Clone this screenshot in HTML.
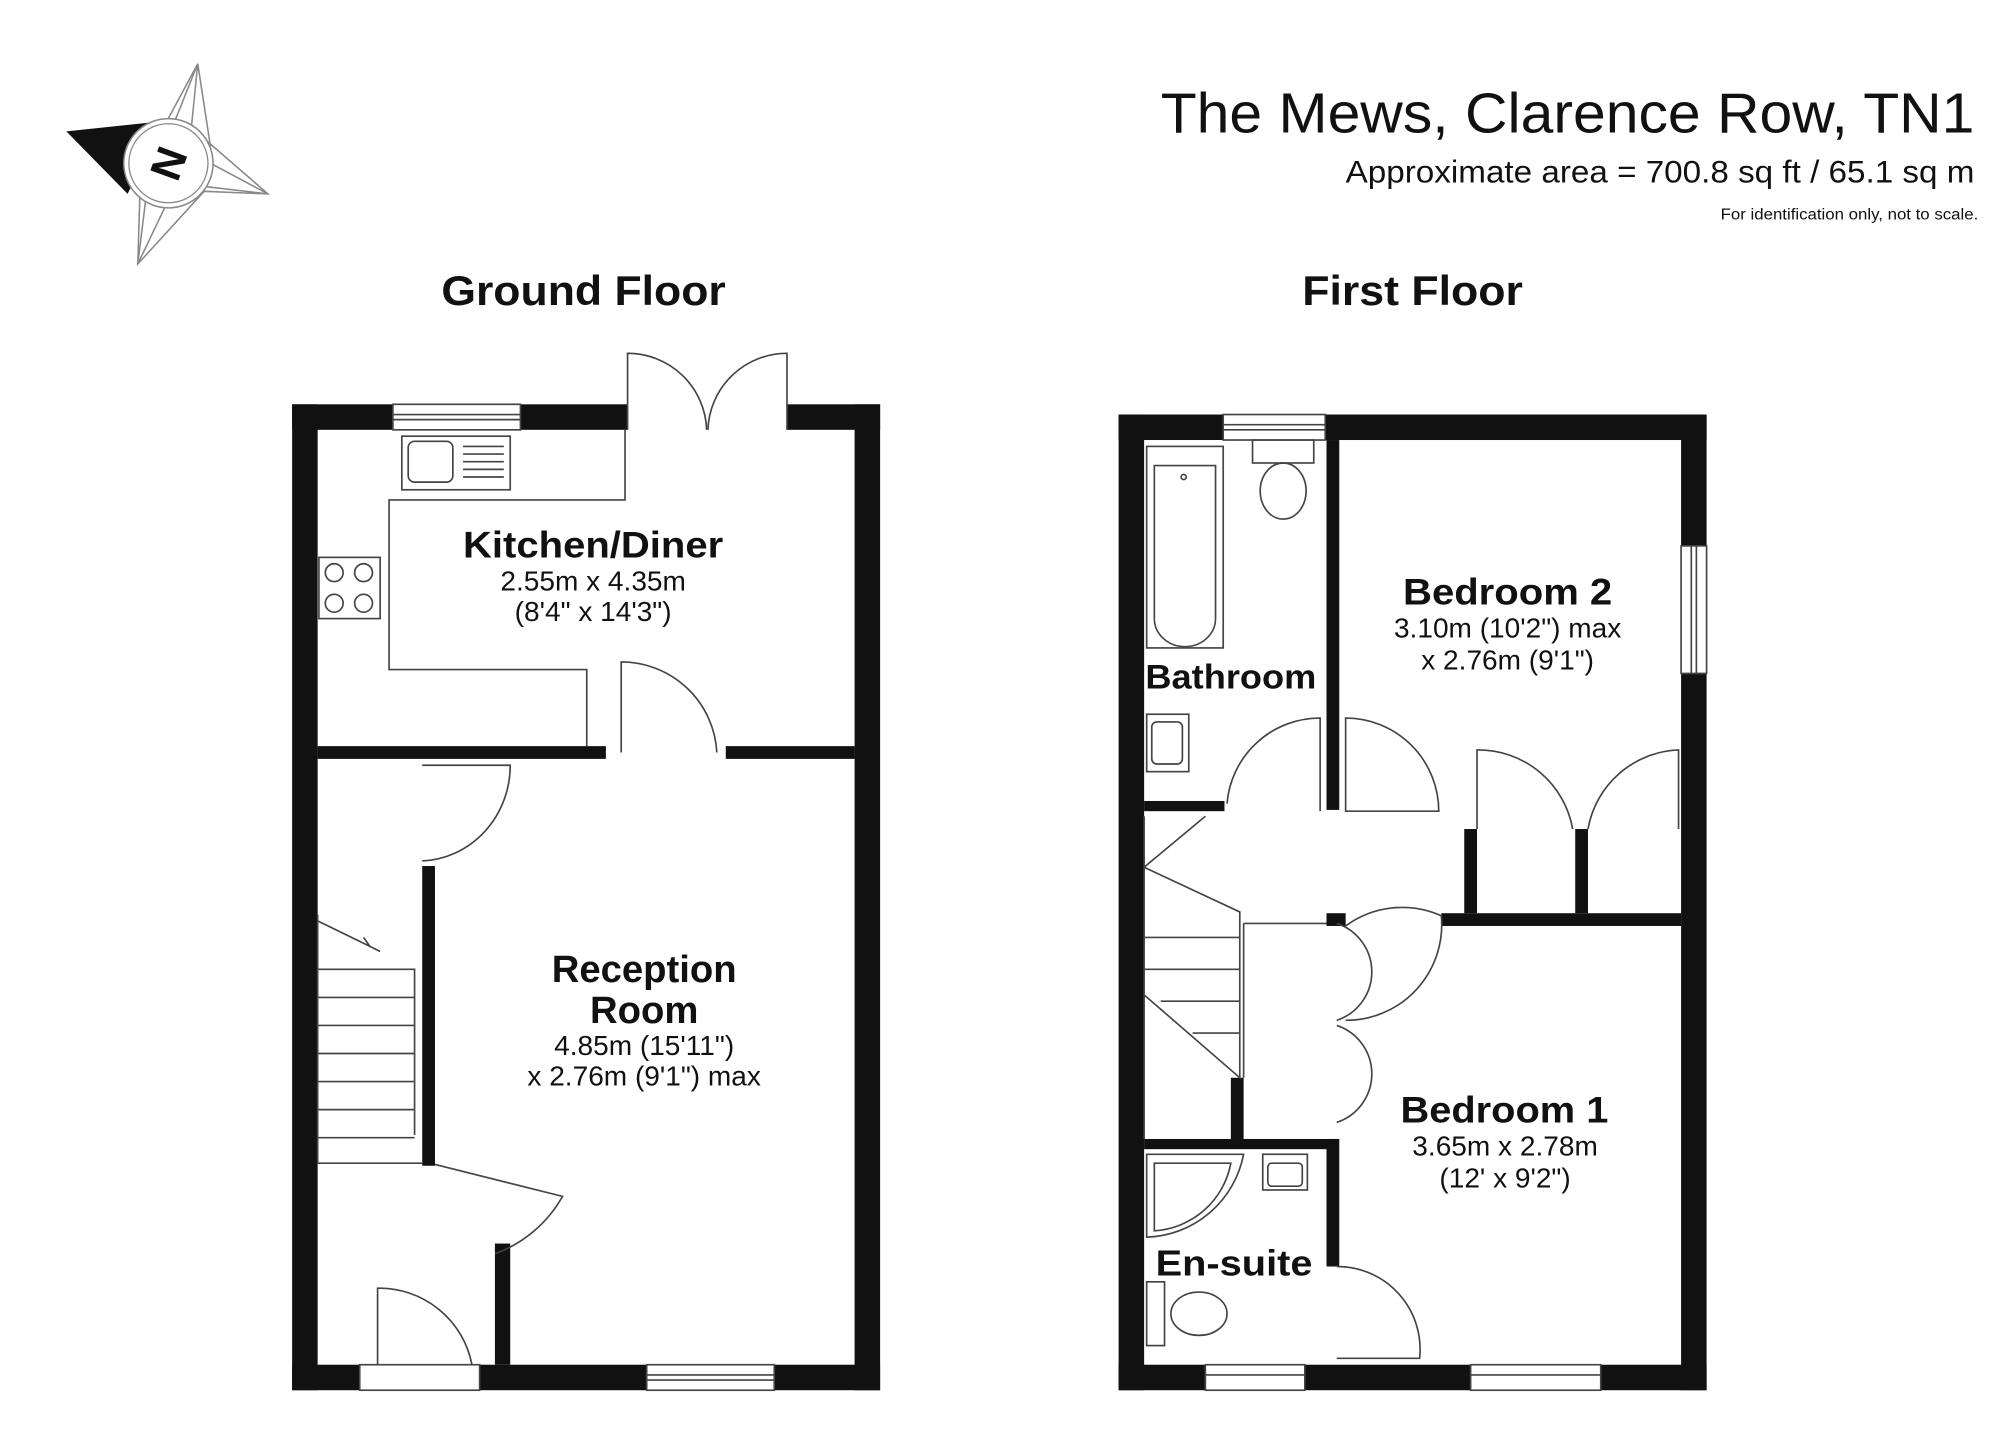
<!DOCTYPE html>
<html><head><meta charset="utf-8"><style>
html,body{margin:0;padding:0;background:#fff}
svg{display:block}
text{font-family:"Liberation Sans",sans-serif;fill:#111}
</style></head><body>
<svg width="2000" height="1454" viewBox="0 0 1568 1140" xmlns="http://www.w3.org/2000/svg">
<rect width="1568" height="1140" fill="#fff"/>
<!-- compass -->
<g stroke="#888" stroke-width="1.2" fill="none">
<polygon points="155,50 150,100 210,152 160,150 108,207 115,150"/>
<line x1="155" y1="50" x2="120" y2="115"/><line x1="155" y1="50" x2="165" y2="115"/>
<line x1="210" y1="152" x2="150" y2="120"/><line x1="210" y1="152" x2="150" y2="145"/>
<line x1="108" y1="207" x2="140" y2="140"/><line x1="108" y1="207" x2="110" y2="140"/>
</g>
<polygon points="52,103 128,95 100,152" fill="#111"/>
<circle cx="132" cy="128" r="35" fill="#fff" stroke="#888" stroke-width="1.2"/>
<circle cx="132" cy="128" r="31" fill="none" stroke="#888" stroke-width="1"/>
<text x="132" y="140" font-size="34" font-weight="bold" text-anchor="middle" transform="rotate(-70 132 128)">N</text>
<!-- header -->
<text x="910" y="104" font-size="44" textLength="638" lengthAdjust="spacingAndGlyphs">The Mews, Clarence Row, TN1</text>
<text x="1055" y="143" font-size="25" textLength="493" lengthAdjust="spacingAndGlyphs">Approximate area = 700.8 sq ft / 65.1 sq m</text>
<text x="1349" y="172" font-size="12" textLength="202" lengthAdjust="spacingAndGlyphs">For identification only, not to scale.</text>
<text x="346" y="239" font-size="33" font-weight="bold" textLength="223" lengthAdjust="spacingAndGlyphs">Ground Floor</text>
<text x="1021" y="239" font-size="33" font-weight="bold" textLength="173" lengthAdjust="spacingAndGlyphs">First Floor</text>

<!-- GROUND FLOOR -->
<g fill="#111">
<rect x="229" y="317" width="20" height="773"/>
<rect x="670" y="317" width="20" height="773"/>
<rect x="229" y="317" width="79" height="20"/>
<rect x="408" y="317" width="84" height="20"/>
<rect x="617" y="317" width="73" height="20"/>
<rect x="229" y="1070" width="53" height="20"/>
<rect x="376" y="1070" width="131" height="20"/>
<rect x="607" y="1070" width="83" height="20"/>
<rect x="249" y="585" width="226" height="10"/>
<rect x="569" y="585" width="101" height="10"/>
<rect x="331" y="679" width="10" height="235"/>
<rect x="388" y="975" width="12" height="95"/>
</g>
<g fill="none" stroke="#444" stroke-width="1.3">
<rect x="308" y="317" width="100" height="20"/><line x1="308" y1="325" x2="408" y2="325"/><line x1="308" y1="329" x2="408" y2="329"/>
<rect x="507" y="1070" width="100" height="20"/><line x1="507" y1="1078" x2="607" y2="1078"/><line x1="507" y1="1082" x2="607" y2="1082"/>
<rect x="282" y="1070" width="94" height="20"/>
<path d="M492,337 V277 A62,62 0 0 1 554,337"/>
<path d="M617,337 V277 A62,62 0 0 0 555,337"/>
<path d="M490,337 V392 H305 V525 H460 V585"/>
<rect x="315" y="342" width="85" height="42"/><rect x="320" y="346" width="35" height="32" rx="5"/>
<line x1="363" y1="350" x2="395" y2="350"/><line x1="363" y1="356" x2="395" y2="356"/><line x1="363" y1="362" x2="395" y2="362"/><line x1="363" y1="368" x2="395" y2="368"/><line x1="363" y1="374" x2="395" y2="374"/>
<rect x="250" y="437" width="48" height="48"/>
<circle cx="262" cy="449" r="7"/><circle cx="285" cy="449" r="7"/><circle cx="262" cy="473" r="7"/><circle cx="285" cy="473" r="7"/>
<path d="M487,590 V519 A75,75 0 0 1 562,590"/>
<path d="M331,600 H400 A72,75 0 0 1 331,675"/>
<path d="M341,913 L441,938 A100,100 0 0 1 388,983"/>
<path d="M296,1070 V1010 A74,74 0 0 1 370,1070"/>
<path d="M249,912 H331 M249,717 V912 M249,760 H325 V890"/>
<line x1="249" y1="782" x2="325" y2="782"/><line x1="249" y1="804" x2="325" y2="804"/><line x1="249" y1="826" x2="325" y2="826"/><line x1="249" y1="848" x2="325" y2="848"/><line x1="249" y1="870" x2="325" y2="870"/><line x1="249" y1="892" x2="325" y2="892"/>
<path d="M249,722 L290,742 L285,735 M290,742 L298,746"/>
</g>
<text x="363" y="437" font-size="29" font-weight="bold" textLength="204" lengthAdjust="spacingAndGlyphs">Kitchen/Diner</text>
<text x="465" y="463" font-size="22" text-anchor="middle">2.55m x 4.35m</text>
<text x="465" y="487" font-size="22" text-anchor="middle">(8'4" x 14'3")</text>
<text x="505" y="770" font-size="30" font-weight="bold" text-anchor="middle">Reception</text>
<text x="505" y="802" font-size="30" font-weight="bold" text-anchor="middle">Room</text>
<text x="505" y="827" font-size="22" text-anchor="middle">4.85m (15'11")</text>
<text x="505" y="851" font-size="22" text-anchor="middle">x 2.76m (9'1") max</text>

<!-- FIRST FLOOR -->
<g fill="#111">
<rect x="877" y="325" width="20" height="765"/>
<rect x="1318" y="325" width="20" height="103"/>
<rect x="1318" y="528" width="20" height="562"/>
<rect x="877" y="325" width="82" height="20"/>
<rect x="1039" y="325" width="299" height="20"/>
<rect x="877" y="1070" width="68" height="20"/>
<rect x="1023" y="1070" width="130" height="20"/>
<rect x="1255" y="1070" width="83" height="20"/>
<rect x="1040" y="345" width="10" height="290"/>
<rect x="897" y="628" width="63" height="8"/>
<rect x="1040" y="716" width="15" height="10"/>
<rect x="1130" y="716" width="188" height="10"/>
<rect x="1148" y="650" width="10" height="66"/>
<rect x="1235" y="650" width="10" height="66"/>
<rect x="965" y="845" width="10" height="53"/>
<rect x="897" y="893" width="150" height="8"/>
<rect x="1040" y="893" width="10" height="100"/>
</g>
<g fill="none" stroke="#444" stroke-width="1.3">
<rect x="959" y="325" width="80" height="20"/><line x1="959" y1="333" x2="1039" y2="333"/><line x1="959" y1="337" x2="1039" y2="337"/>
<rect x="1318" y="428" width="20" height="100"/><line x1="1326" y1="428" x2="1326" y2="528"/><line x1="1330" y1="428" x2="1330" y2="528"/>
<rect x="945" y="1070" width="78" height="20"/><line x1="945" y1="1078" x2="1023" y2="1078"/>
<rect x="1153" y="1070" width="102" height="20"/><line x1="1153" y1="1078" x2="1255" y2="1078"/>
<rect x="899" y="350" width="60" height="158"/><path d="M905,365 H953 V485 A24,22 0 0 1 905,485 Z"/>
<circle cx="928" cy="374" r="2"/>
<rect x="982" y="345" width="48" height="18"/><ellipse cx="1006" cy="385" rx="18" ry="22"/>
<rect x="899" y="560" width="33" height="45"/><rect x="903" y="566" width="24" height="33" rx="4"/>
<path d="M962,630 A73,73 0 0 1 1035,563 V636"/>
<path d="M1055,563 A73,73 0 0 1 1128,636 L1055,636 Z"/>
<path d="M1055,726 A75,75 0 0 1 1130,718 A75,75 0 0 1 1055,800"/>
<path d="M1158,650 V588 A75,75 0 0 1 1233,650"/>
<path d="M1316,650 V588 A75,75 0 0 0 1245,650"/>
<path d="M1048,724 A40,40 0 0 1 1048,800 M1048,804 A40,40 0 0 1 1048,880"/>
<path d="M975,724 V845 M975,724 H1040"/>
<path d="M1048,993 A65,65 0 0 1 1113,1065 H1048"/>
<path d="M897,640 V893 M897,680 L945,640 M897,680 L972,715 V845 L897,780"/>
<line x1="897" y1="735" x2="972" y2="735"/><line x1="897" y1="760" x2="972" y2="760"/><line x1="910" y1="785" x2="972" y2="785"/><line x1="935" y1="810" x2="972" y2="810"/>
<path d="M899,905 H975 A80,80 0 0 1 899,970 Z"/><path d="M905,912 H965 A65,65 0 0 1 905,965 Z"/>
<rect x="990" y="905" width="35" height="28"/><rect x="994" y="912" width="27" height="18" rx="3"/>
<rect x="899" y="1005" width="14" height="50"/><ellipse cx="940" cy="1030" rx="22" ry="17"/>
</g>
<text x="898" y="540" font-size="27" font-weight="bold" textLength="134" lengthAdjust="spacingAndGlyphs">Bathroom</text>
<text x="1100" y="474" font-size="29" font-weight="bold" textLength="164" lengthAdjust="spacingAndGlyphs">Bedroom 2</text>
<text x="1182" y="500" font-size="22" text-anchor="middle">3.10m (10'2") max</text>
<text x="1182" y="525" font-size="22" text-anchor="middle">x 2.76m (9'1")</text>
<text x="1098" y="880" font-size="29" font-weight="bold" textLength="163" lengthAdjust="spacingAndGlyphs">Bedroom 1</text>
<text x="1180" y="906" font-size="22" text-anchor="middle">3.65m x 2.78m</text>
<text x="1180" y="931" font-size="22" text-anchor="middle">(12' x 9'2")</text>
<text x="906" y="1000" font-size="28" font-weight="bold" textLength="123" lengthAdjust="spacingAndGlyphs">En-suite</text>
</svg>
</body></html>
